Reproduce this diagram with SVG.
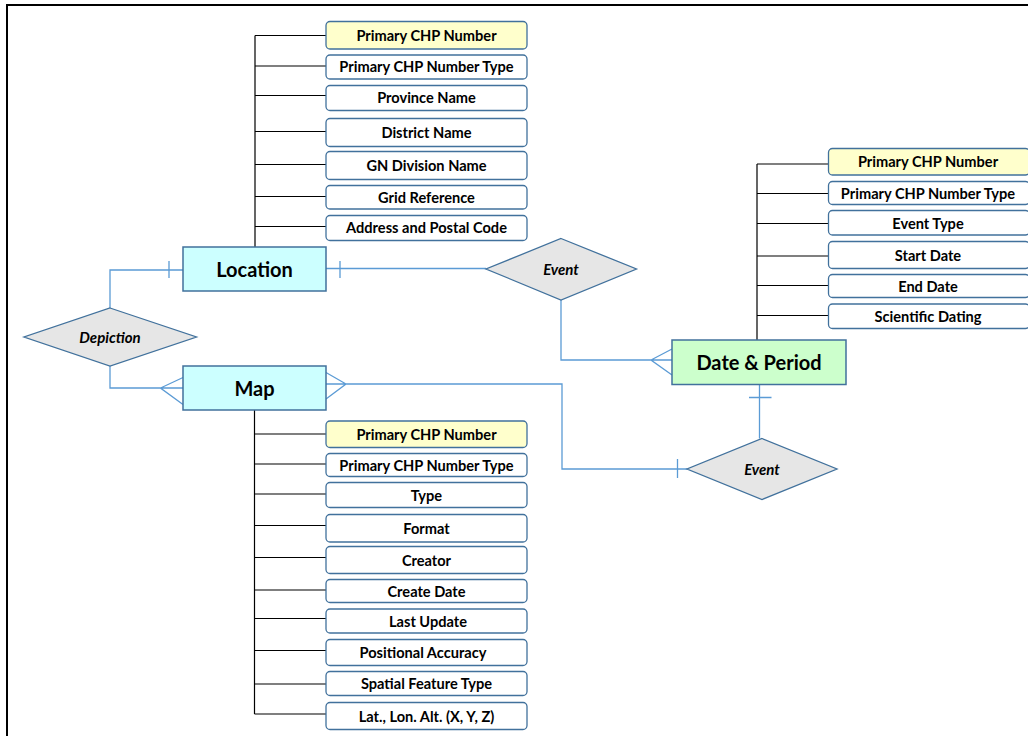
<svg xmlns="http://www.w3.org/2000/svg" width="1028" height="736" viewBox="0 0 1028 736">
<style>
.attr{fill:#fff;stroke:#41719c;stroke-width:1.3}
.key{fill:#ffffcc;stroke:#41719c;stroke-width:1.3}
.ent{stroke:#41719c;stroke-width:1.5}
.rel{fill:#e6e6e6;stroke:#41719c;stroke-width:1.3}
.tree{fill:none;stroke:#000;stroke-width:1.2}
.conn{fill:none;stroke:#5b9bd5;stroke-width:1.3}
.at{font-family:Lato,"Liberation Sans",sans-serif;font-weight:bold;font-size:14.6px;text-anchor:middle;dominant-baseline:central;fill:#000}
.et{font-family:Lato,"Liberation Sans",sans-serif;font-weight:bold;font-size:20px;text-anchor:middle;dominant-baseline:central;fill:#000}
.rt{font-family:Lato,"Liberation Sans",sans-serif;font-weight:bold;font-style:italic;font-size:15px;text-anchor:middle;dominant-baseline:central;fill:#000}
</style>
<rect x="0" y="0" width="1028" height="736" fill="#fff"/>
<rect x="7" y="5" width="1040" height="760" fill="none" stroke="#000" stroke-width="2"/>

<g id="connectors">
  <path class="tree" d="M255 35.5V247 M255 35.5H326 M255 66H326 M255 95.5H326 M255 131.5H326 M255 164.5H326 M255 196.5H326 M255 226.5H326"/>
  <path class="tree" d="M254.5 410V714 M254.5 434H326 M254.5 464H326 M254.5 494H326 M254.5 525.5H326 M254.5 557.5H326 M254.5 590H326 M254.5 618.5H326 M254.5 650.5H326 M254.5 684H326 M254.5 714H326"/>
  <path class="tree" d="M757 164V340 M757 164H828 M757 193.5H828 M757 223.5H828 M757 256H828 M757 285.5H828 M757 315.5H828"/>
  <path class="conn" d="M110 308V270H183 M169 261V278"/>
  <path class="conn" d="M110 366V388H183 M183 377.5L160.5 388L183 404.5"/>
  <path class="conn" d="M326 268.5H486 M340 261V278"/>
  <path class="conn" d="M561 300V360H672 M672 349L651 360L672 375"/>
  <path class="conn" d="M326 384H562V469H687 M326 372.5L346 384L326 399 M677.5 459V478"/>
  <path class="conn" d="M759.5 384.5V438.5 M749 397.5H771.5"/>
</g>

<g id="location">
  <rect class="ent" x="183" y="247" width="143" height="44" fill="#ccffff"/>
  <text class="et" x="254.5" y="269">Location</text>
</g>
<g id="map">
  <rect class="ent" x="183" y="366" width="143" height="44" fill="#ccffff"/>
  <text class="et" x="254.5" y="388">Map</text>
</g>
<g id="date-period">
  <rect class="ent" x="672" y="340" width="174" height="44.5" fill="#ccffcc"/>
  <text class="et" x="759" y="362">Date &amp; Period</text>
</g>
<g id="depiction">
  <polygon class="rel" points="110,308 196.5,337 110,366 24,337"/>
  <text class="rt" x="110" y="337">Depiction</text>
</g>
<g id="event1">
  <polygon class="rel" points="561,238.5 636.5,269 561,300 486,269"/>
  <text class="rt" x="561" y="269">Event</text>
</g>
<g id="event2">
  <polygon class="rel" points="762,438.5 837,469 762,499.5 687,469"/>
  <text class="rt" x="762" y="469">Event</text>
</g>

<g id="loc-attrs">
  <g id="loc-a1"><rect class="key" x="326" y="21.5" width="201" height="27.5" rx="4"/><text class="at" x="426.5" y="35">Primary CHP Number</text></g>
  <g id="loc-a2"><rect class="attr" x="326" y="55" width="201" height="24" rx="4"/><text class="at" x="426.5" y="66.5">Primary CHP Number Type</text></g>
  <g id="loc-a3"><rect class="attr" x="326" y="85.5" width="201" height="25" rx="4"/><text class="at" x="426.5" y="97.5">Province Name</text></g>
  <g id="loc-a4"><rect class="attr" x="326" y="118.5" width="201" height="28" rx="4"/><text class="at" x="426.5" y="132">District Name</text></g>
  <g id="loc-a5"><rect class="attr" x="326" y="151.5" width="201" height="28" rx="4"/><text class="at" x="426.5" y="165">GN Division Name</text></g>
  <g id="loc-a6"><rect class="attr" x="326" y="185.5" width="201" height="23.5" rx="4"/><text class="at" x="426.5" y="197">Grid Reference</text></g>
  <g id="loc-a7"><rect class="attr" x="326" y="215.5" width="201" height="25" rx="4"/><text class="at" x="426.5" y="227.5">Address and Postal Code</text></g>
</g>

<g id="date-attrs">
  <g id="dt-a1"><rect class="key" x="828.5" y="148.5" width="201" height="26.5" rx="4"/><text class="at" x="928" y="161.5">Primary CHP Number</text></g>
  <g id="dt-a2"><rect class="attr" x="828.5" y="181.5" width="201" height="23" rx="4"/><text class="at" x="928" y="193">Primary CHP Number Type</text></g>
  <g id="dt-a3"><rect class="attr" x="828.5" y="210.5" width="201" height="24.5" rx="4"/><text class="at" x="928" y="223">Event Type</text></g>
  <g id="dt-a4"><rect class="attr" x="828.5" y="241.5" width="201" height="27" rx="4"/><text class="at" x="928" y="255">Start Date</text></g>
  <g id="dt-a5"><rect class="attr" x="828.5" y="274.5" width="201" height="23" rx="4"/><text class="at" x="928" y="286">End Date</text></g>
  <g id="dt-a6"><rect class="attr" x="828.5" y="304" width="201" height="24.5" rx="4"/><text class="at" x="928" y="316.5">Scientific Dating</text></g>
</g>

<g id="map-attrs">
  <g id="map-a1"><rect class="key" x="326" y="421" width="201" height="26.5" rx="4"/><text class="at" x="426.5" y="434">Primary CHP Number</text></g>
  <g id="map-a2"><rect class="attr" x="326" y="453.5" width="201" height="23" rx="4"/><text class="at" x="426.5" y="465">Primary CHP Number Type</text></g>
  <g id="map-a3"><rect class="attr" x="326" y="482.5" width="201" height="25" rx="4"/><text class="at" x="426.5" y="495.5">Type</text></g>
  <g id="map-a4"><rect class="attr" x="326" y="514.5" width="201" height="27.5" rx="4"/><text class="at" x="426.5" y="528">Format</text></g>
  <g id="map-a5"><rect class="attr" x="326" y="546.5" width="201" height="27" rx="4"/><text class="at" x="426.5" y="560">Creator</text></g>
  <g id="map-a6"><rect class="attr" x="326" y="579.5" width="201" height="23" rx="4"/><text class="at" x="426.5" y="591">Create Date</text></g>
  <g id="map-a7"><rect class="attr" x="326" y="609" width="201" height="24" rx="4"/><text class="at" x="428" y="621">Last Update</text></g>
  <g id="map-a8"><rect class="attr" x="326" y="639.5" width="201" height="26" rx="4"/><text class="at" x="423" y="652.5">Positional Accuracy</text></g>
  <g id="map-a9"><rect class="attr" x="326" y="671.5" width="201" height="24" rx="4"/><text class="at" x="426.5" y="683.5">Spatial Feature Type</text></g>
  <g id="map-a10"><rect class="attr" x="326" y="702.5" width="201" height="27" rx="4"/><text class="at" x="426.5" y="716">Lat., Lon. Alt. (X, Y, Z)</text></g>
</g>
</svg>
